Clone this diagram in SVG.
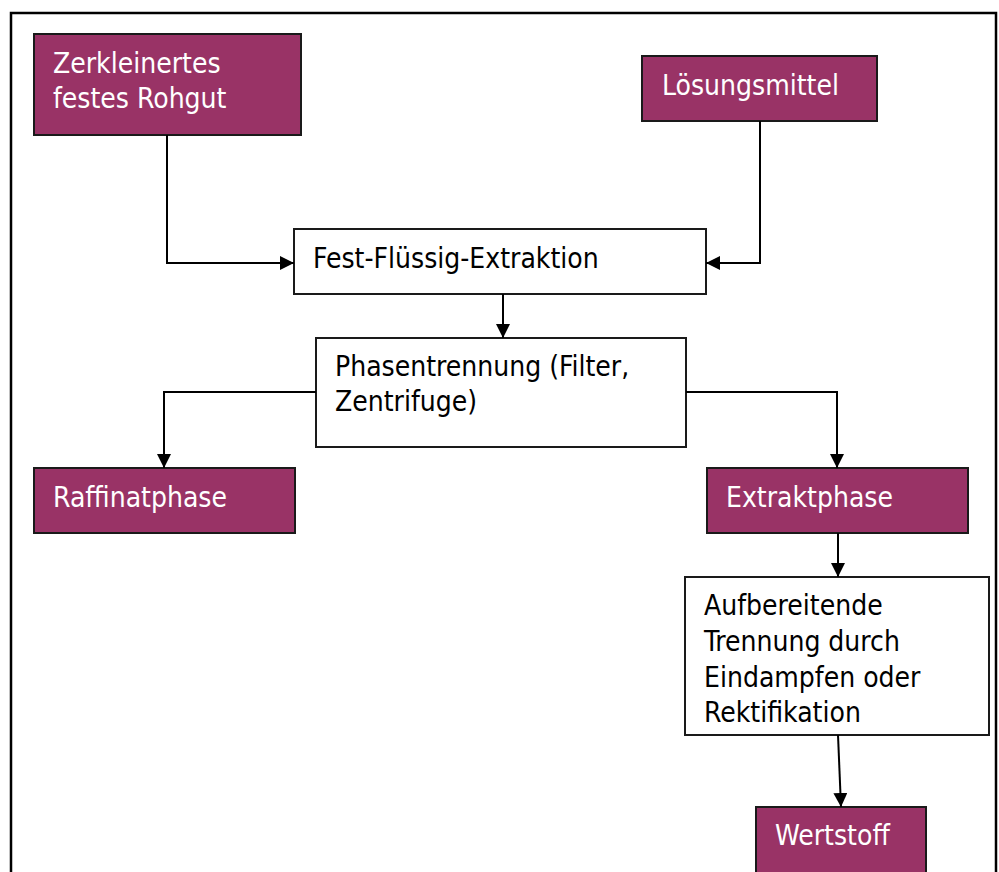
<svg xmlns="http://www.w3.org/2000/svg" width="999" height="872" viewBox="0 0 999 872">
<defs>
<marker id="arr" viewBox="0 0 14 14" refX="14" refY="7" markerWidth="14" markerHeight="14" markerUnits="userSpaceOnUse" orient="auto">
<path d="M0,0 L14,7 L0,14 Z" fill="#000"/>
</marker>
<style>
.dark{fill:#993366;stroke:#1a1a1a;stroke-width:2}
.light{fill:#fff;stroke:#1a1a1a;stroke-width:2}
text{font-family:'DejaVu Sans Condensed','DejaVu Sans',sans-serif;font-stretch:condensed;font-size:28px}
.w{fill:#fff}
.b{fill:#000}
.con{fill:none;stroke:#000;stroke-width:2;marker-end:url(#arr)}
</style>
</defs>
<rect x="11" y="13" width="985" height="880" fill="#fff" stroke="#000" stroke-width="2.5"/>
<g id="n1"><rect class="dark" x="34" y="34" width="267" height="101"/><text class="w" x="53" y="73">Zerkleinertes</text><text class="w" x="53" y="108">festes Rohgut</text></g>
<g id="n2"><rect class="dark" x="642" y="56" width="235" height="65"/><text class="w" x="662" y="95">Lösungsmittel</text></g>
<g id="n3"><rect class="light" x="294" y="229" width="412" height="65"/><text class="b" x="313" y="268">Fest-Flüssig-Extraktion</text></g>
<g id="n4"><rect class="light" x="316" y="338" width="370" height="109"/><text class="b" x="335" y="376">Phasentrennung (Filter,</text><text class="b" x="335" y="411">Zentrifuge)</text></g>
<g id="n5"><rect class="dark" x="34" y="468" width="261" height="65"/><text class="w" x="53" y="507">Raffinatphase</text></g>
<g id="n6"><rect class="dark" x="707" y="468" width="261" height="65"/><text class="w" x="726" y="507">Extraktphase</text></g>
<g id="n7"><rect class="light" x="685" y="577" width="304" height="158"/><text class="b" x="704" y="615">Aufbereitende</text><text class="b" x="704" y="651">Trennung durch</text><text class="b" x="704" y="687">Eindampfen oder</text><text class="b" x="704" y="722">Rektifikation</text></g>
<g id="n8"><rect class="dark" x="756" y="807" width="170" height="80"/><text class="w" x="775" y="845">Wertstoff</text></g>
<g id="connectors">
<path class="con" d="M167,135 V263 H294"/>
<path class="con" d="M760,121 V263 H706"/>
<path class="con" d="M503,294 V338"/>
<path class="con" d="M316,392 H164 V468"/>
<path class="con" d="M686,392 H837 V468"/>
<path class="con" d="M838,533 V577"/>
<path class="con" d="M838,735 L841,807"/>
</g>
</svg>
